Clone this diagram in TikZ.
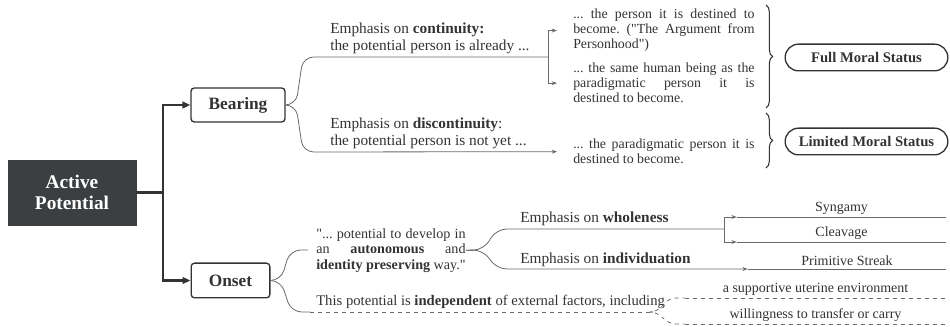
\documentclass[tikz,border=0pt]{standalone}
\usepackage{fontspec}
\setmainfont{Liberation Serif}
\usepackage{tikz}
\usetikzlibrary{calc}
\usetikzlibrary{arrows.meta}
\usetikzlibrary{decorations.pathreplacing}
\definecolor{boxdark}{HTML}{3C3F41}
\definecolor{ink}{HTML}{333333}
\definecolor{wire}{HTML}{6A6A6A}
\newcommand{\qmark}{\textquotedbl}
\frenchspacing

\begin{document}
\begin{tikzpicture}[x=0.75pt,y=-0.75pt,
        trunk/.style={line width=1.6pt,draw=ink},
        twig/.style={line width=0.6pt,draw=wire},
        tip/.style={-{Stealth[length=4pt,width=3pt]}},
        bigtip/.style={-{Triangle[length=6pt,width=5pt]}},
        topic/.style={draw=ink,line width=1pt,rounded corners=2.5pt,text=ink,font=\fontsize{13}{15}\selectfont\bfseries},
        status/.style={draw=ink,line width=1pt,rounded corners=10pt,minimum width=122pt,minimum height=20pt,text=ink,font=\fontsize{11}{13}\selectfont\bfseries},
        note/.style={text=ink,font=\fontsize{11.5}{12.75}\selectfont,inner sep=0pt,align=left,anchor=west},
        para/.style={text=ink,font=\fontsize{10.4}{11.25}\selectfont,inner sep=0pt,align=justify,text width=136pt,anchor=north west},
        leaf/.style={text=ink,font=\fontsize{10.5}{12}\selectfont,inner xsep=0pt,inner ysep=2pt,anchor=south},
        bracket/.style={draw=ink,line width=0.8pt,decorate,decoration={brace,amplitude=5pt}}]

        \useasboundingbox (0,0) rectangle (950,327);

        \node[fill=boxdark,draw=boxdark,text=white,minimum width=96pt,minimum height=48.75pt,align=center,font=\fontsize{14.5}{15.5}\selectfont\bfseries] (ap) at (72,192.5) {Active\\Potential};
        \node[topic,minimum width=70.5pt,minimum height=25.5pt] (bearing) at (238,105) {Bearing};
        \node[topic,minimum width=59pt,minimum height=26pt] (onset) at (230.5,280.5) {Onset};

        \draw[trunk] (ap.east) -- (163,192.5) coordinate (fork);
        \draw[trunk,bigtip] (fork) |- (bearing.west);
        \draw[trunk,bigtip] (fork) |- (onset.west);

        % bearing side
        \node[note] (cont) at (330,38) {Emphasis on \textbf{continuity:}\\the potential person is already ...};
        \node[note] (disc) at (330,133) {Emphasis on \textbf{discontinuity}:\\the potential person is not yet ...};
        \node[para] (pers) at (573,9) {... the person it is destined to\linebreak become. (\qmark The Argument from\linebreak Personhood\qmark)};
        \node[para] (same) at (573,63) {... the same human being as the\linebreak paradigmatic person it is\linebreak destined to become.};
        \node[para] (para) at (573,139) {... the paradigmatic person it is\linebreak destined to become.};

        \draw[twig,rounded corners=8pt] (bearing.east) -- (296,105) -- (303,57) -- (548,57) coordinate (cj);
        \draw[twig,tip,shorten >=12pt] (cj) |- (pers.west);
        \draw[twig,tip,shorten >=12pt] (cj) |- (same.west);
        \draw[twig,tip,rounded corners=8pt,shorten >=12pt] (bearing.east) -- (296,105) -- (303,152) -- (para.west);

        \draw[bracket] (766,5) -- (766,108);
        \draw[bracket] (766,113) -- (766,168);
        \node[status] (full) at (866.5,57.5) {Full Moral Status};
        \node[status] (lim) at (866.5,141.5) {Limited Moral Status};

        % onset side
        \node[para,text width=112pt,font=\fontsize{10.6}{11.6}\selectfont] (quote) at (316,228) {\qmark... potential to develop in\linebreak an \textbf{autonomous} and\linebreak \textbf{identity preserving} way.\qmark};
        \node[note,font=\fontsize{11}{12}\selectfont] (indep) at (316,302) {This potential is \textbf{independent} of external factors, including};
        \node[note] (whole) at (520,219) {Emphasis on \textbf{wholeness}};
        \node[note] (indiv) at (520,260) {Emphasis on \textbf{individuation}};

        \node[leaf,minimum width=156.75pt] (syn) at (841.5,217) {Syngamy};
        \node[leaf,minimum width=156.75pt] (clv) at (841.5,242) {Cleavage};
        \node[leaf,minimum width=148.5pt] (prim) at (847,269) {Primitive Streak};
        \node[leaf,minimum width=195.75pt] (uter) at (815.5,298) {a supportive uterine environment};
        \node[leaf,minimum width=195.75pt] (will) at (815.5,324) {willingness to transfer or carry};

        \draw[twig,rounded corners=8pt] (onset.east) -- (281,280.5) -- (290,250) -- (308,250);
        \draw[twig,rounded corners=8pt] (onset.east) -- (281,280.5) -- (291,312) -- (310,312) coordinate (dj);
        \draw[twig,dashed] (dj) -- (653,312) coordinate (ej);
        \draw[twig,dashed,rounded corners=6pt] (ej) -- (658,312) -- (668,298) -- (uter.south west);
        \draw[twig,dashed,rounded corners=6pt] (ej) -- (658,312) -- (668,324) -- (will.south west);
        \draw[twig,dashed] (uter.south west) -- (uter.south east);
        \draw[twig,dashed] (will.south west) -- (will.south east);

        \draw[twig,rounded corners=8pt] (quote.east) -- (484,250) -- (496,229) -- (724,229) coordinate (wj);
        \draw[twig,tip] (wj) |- (syn.south west);
        \draw[twig,tip] (wj) |- (clv.south west);
        \draw[twig,tip,rounded corners=8pt] (quote.east) -- (484,250) -- (496,269) -- (prim.south west);
        \draw[twig] (syn.south west) -- (syn.south east);
        \draw[twig] (clv.south west) -- (clv.south east);
        \draw[twig] (prim.south west) -- (prim.south east);
\end{tikzpicture}
\end{document}
